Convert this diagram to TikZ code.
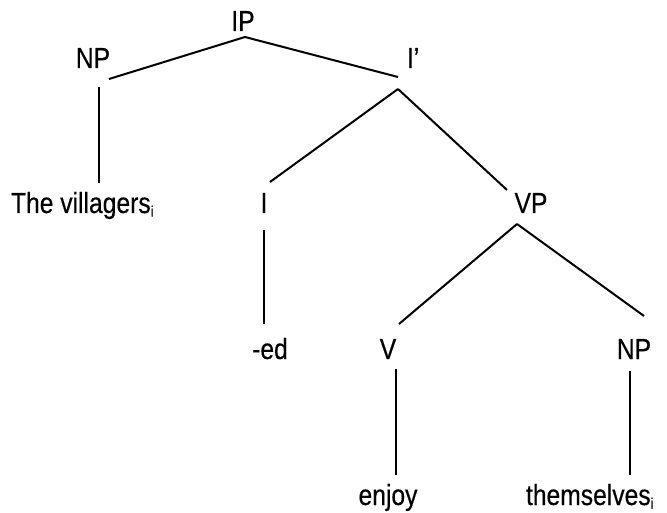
\documentclass[tikz,border=0pt]{standalone}
\usepackage{fontspec}
\setmainfont[FakeStretch=0.85,FakeBold=0.4]{Liberation Sans}
% small lowered index letter
\newcommand{\idx}[1]{\raisebox{-3.5pt}{\fontsize{15}{15}\selectfont #1}}
\begin{document}
\begin{tikzpicture}[x=1pt,y=-1pt,
  lbl/.style={inner sep=0pt, outer sep=0pt, text height=21pt, text depth=0pt,
              font=\fontsize{29}{34}\selectfont},
  branch/.style={line width=2pt, line cap=butt}]
\useasboundingbox (0,0) rectangle (667,513);

% labels (positions are baselines)
\node[lbl, anchor=base]      (ip)   at (243,31)  {IP};
\node[lbl, anchor=base]      (np1)  at (93,68)   {NP};
\node[lbl, anchor=base west] (ibar) at (407,68)  {I’};
\node[lbl, anchor=base west] (vill) at (11,213)  {The villagers\idx{i}};
\node[lbl, anchor=base]      (i)    at (264,213) {I};
\node[lbl, anchor=base]      (vp)   at (531,213) {VP};
\node[lbl, anchor=base]      (ed)   at (270,359) {-ed};
\node[lbl, anchor=base]      (v)    at (388,359) {V};
\node[lbl, anchor=base]      (np2)  at (634,359) {NP};
\node[lbl, anchor=base]      (enj)  at (388,505) {enjoy};
\node[lbl, anchor=base west] (them) at (526,505) {themselves\idx{i}};

% branches
\draw[branch] ([shift={(2,6)}]ip.base)   -- ([shift={(16,11)}]np1.base);
\draw[branch] ([shift={(2,6)}]ip.base)   -- ([shift={(-9,9)}]ibar.base west);
\draw[branch] ([shift={(6,19)}]np1.base) -- ([shift={(88,-30)}]vill.base west);
\draw[branch] ([shift={(-9,21)}]ibar.base west) -- ([shift={(6,-31)}]i.base);
\draw[branch] ([shift={(-9,21)}]ibar.base west) -- ([shift={(-24,-23)}]vp.base);
\draw[branch] ([shift={(0,17)}]i.base)   -- ([shift={(-6,-35)}]ed.base);
\draw[branch] ([shift={(-14,11)}]vp.base) -- ([shift={(11,-35)}]v.base);
\draw[branch] ([shift={(-14,11)}]vp.base) -- ([shift={(10,-43)}]np2.base);
\draw[branch] ([shift={(8,10)}]v.base)   -- ([shift={(8,-30)}]enj.base);
\draw[branch] ([shift={(-4,12)}]np2.base) -- ([shift={(104,-30)}]them.base west);
\end{tikzpicture}
\end{document}
